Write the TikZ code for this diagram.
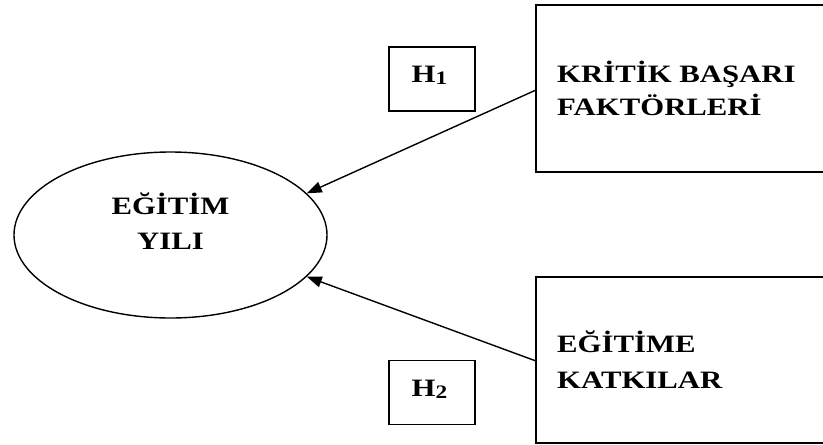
\documentclass[tikz,border=0pt]{standalone}
\usepackage{fontspec}
\setmainfont{Liberation Serif}
\newfontfamily\stretchfont[FakeStretch=1.23]{Liberation Serif}
\newcommand\bigtxt{\fontsize{25}{34}\selectfont\stretchfont\bfseries}
\newcommand\subtxt{\fontsize{19}{19}\selectfont\stretchfont\bfseries}
\usetikzlibrary{shapes.geometric,arrows.meta}
\tikzset{
  lbl/.style={font=\bigtxt, inner sep=0pt, anchor=base west},
  ctr/.style={font=\bigtxt, inner sep=0pt, anchor=base},
  bigbox/.style={draw, line width=2pt, rectangle, inner sep=0pt},
  hbox/.style={draw, line width=1.8pt, rectangle, inner sep=0pt, minimum width=86pt, minimum height=64pt},
  conn/.style={line width=1.4pt, -{Triangle[length=15pt,width=11pt]}}}
\begin{document}
\begin{tikzpicture}[x=1pt,y=-1pt]
\useasboundingbox (0,0) rectangle (823,445);
\clip (0,0) rectangle (823,445);
\node[draw, ellipse, line width=1.4pt, minimum width=313pt, minimum height=166pt, inner sep=0pt] (el) at (170.5,235) {};
\node[ctr] (elt1) at (170.5,214) {\bigtxt EĞİTİM};
\node[ctr] (elt2) at (170.5,249) {\bigtxt YILI};
\node[bigbox, minimum width=294pt, minimum height=167pt] (b1) at (683,88.5) {};
\node[bigbox, minimum width=294pt, minimum height=166pt] (b2) at (683,360) {};
\node[lbl] (b1t1) at (557,82) {\bigtxt KRİTİK BAŞARI};
\node[lbl] (b1t2) at (557,115) {\bigtxt FAKTÖRLERİ};
\node[lbl] (b2t1) at (557,352) {\bigtxt EĞİTİME};
\node[lbl] (b2t2) at (557,388) {\bigtxt KATKILAR};
\node[hbox] (h1) at (432,79) {};
\node[hbox] (h2) at (432,392.5) {};
\node[lbl] (h1t) at (411.5,82) {\bigtxt H\raisebox{-2pt}{\subtxt 1}};
\node[lbl] (h2t) at (411.5,396) {\bigtxt H\raisebox{-2pt}{\subtxt 2}};
\coordinate (s1) at (536,90);
\coordinate (s2) at (536,361);
\draw[conn] (s1) -- (el.17);
\draw[conn] (s2) -- (el.-17);
\end{tikzpicture}
\end{document}
